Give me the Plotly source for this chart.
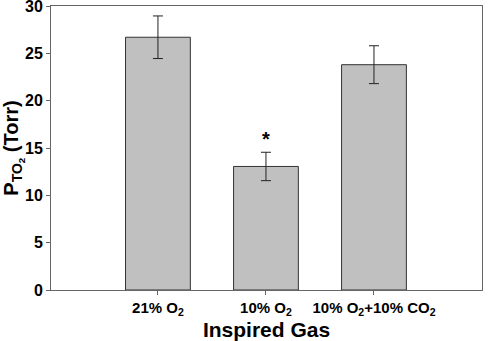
import plotly.graph_objects as go

categories = ["21% O<sub>2</sub>", "10% O<sub>2</sub>", "10% O<sub>2</sub>+10% CO<sub>2</sub>"]
means = [26.7, 13.05, 23.8]
errors = [2.25, 1.5, 2.0]
yticks = [0, 5, 10, 15, 20, 25, 30]
positions = [0, 1, 2]

fig = go.Figure()
fig.add_trace(go.Bar(
    x=positions, y=means, width=0.6,
    marker=dict(color="#c0c0c0", line=dict(color="#333333", width=1)),
    error_y=dict(type="data", array=errors, visible=True, color="#222222", thickness=1, width=5),
    showlegend=False,
))
fig.add_annotation(x=1, y=15.9, text="<b>*</b>", showarrow=False,
                   font=dict(size=20, color="black", family="Liberation Sans"), yanchor="middle")

fig.update_layout(
    width=488, height=341, autosize=False,
    margin=dict(l=51, r=6, t=6, b=51),
    plot_bgcolor="white", paper_bgcolor="white",
    font=dict(family="Liberation Sans", color="black"),
    bargap=0.4,
)
fig.update_xaxes(
    range=[-0.99, 3.0], tickvals=positions, ticktext=["<b>%s</b>" % c for c in categories],
    showline=True, linecolor="#666666", linewidth=1, mirror=True,
    ticks="outside", ticklen=4, tickcolor="#666666",
    tickfont=dict(size=15, family="Liberation Sans"),
    showgrid=False, zeroline=False, automargin=False, ticklabeloverflow="allow",
    title=dict(text="<b>Inspired Gas</b>", font=dict(size=21), standoff=1),
)
fig.update_yaxes(
    range=[0, 30], tickvals=yticks, ticktext=["<b>%d</b>" % v for v in yticks],
    showline=True, linecolor="#666666", linewidth=1, mirror=True,
    ticks="outside", ticklen=4, tickcolor="#666666",
    tickfont=dict(size=16, family="Liberation Sans"),
    showgrid=False, zeroline=False, automargin=False, ticklabeloverflow="allow",
    title=dict(text="<b>P<sub>TO<sub>2</sub></sub> (Torr)</b>", font=dict(size=20), standoff=3),
)
fig.write_html("out.html", config={"responsive": False, "displayModeBar": False},
               post_script="document.body.style.margin='0';")
